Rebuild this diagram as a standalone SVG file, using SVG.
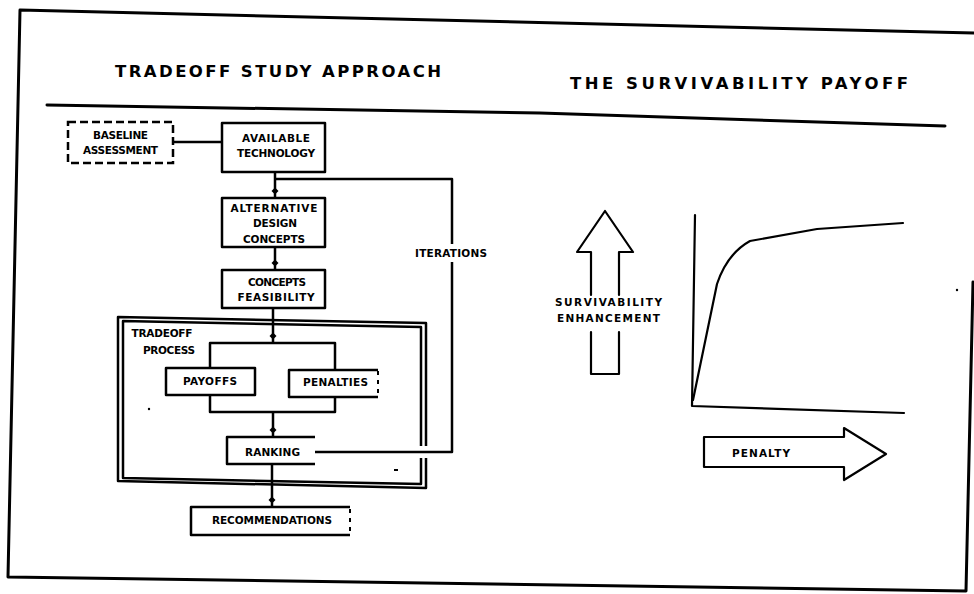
<svg xmlns="http://www.w3.org/2000/svg" width="974" height="594" viewBox="0 0 974 594">
  <defs>
    <style>
      .frame { fill: none; stroke: #000; stroke-width: 3; stroke-linecap: round; stroke-linejoin: round; }
      .box { fill: #fff; stroke: #000; stroke-width: 2.5; stroke-linejoin: round; }
      .open { fill: none; stroke: #000; stroke-width: 2.5; stroke-linejoin: round; }
      .dash { fill: none; stroke: #000; stroke-width: 2.5; stroke-dasharray: 8 4; }
      .dotted { fill: none; stroke: #000; stroke-width: 2; stroke-dasharray: 4 5; }
      .wire { fill: none; stroke: #000; stroke-width: 2.5; stroke-linejoin: round; }
      .plot { fill: none; stroke: #000; stroke-width: 2.2; stroke-linejoin: round; stroke-linecap: round; }
      .title { font-family: "DejaVu Sans", "Liberation Sans", sans-serif; font-weight: bold; font-size: 16.5px; fill: #000; }
      .lbl { font-family: "DejaVu Sans", "Liberation Sans", sans-serif; font-weight: bold; font-size: 10.5px; fill: #000; text-anchor: middle; }
    </style>
    <marker id="dot" markerUnits="userSpaceOnUse" markerWidth="12" markerHeight="12" viewBox="0 0 12 12" refX="11" refY="6" orient="auto">
      <path d="M0.5,6 L4,2.5 L7.5,6 L4,9.5 Z" fill="#000"/>
    </marker>
  </defs>

  <rect width="974" height="594" fill="#fff"/>

  <!-- page frame and header rule -->
  <path class="frame" d="M20,10 L974,33 M20,10 L8,577 L966,591 L973,282"/>
  <path class="frame" d="M47,105 L540,113 L945,126"/>

  <text class="title" x="115" y="77" textLength="326" lengthAdjust="spacing">TRADEOFF STUDY APPROACH</text>
  <text class="title" x="570" y="89" textLength="338" lengthAdjust="spacing">THE SURVIVABILITY PAYOFF</text>

  <!-- tradeoff process enclosure (double border, broken where the loop exits) -->
  <g id="tradeoff-process">
    <path class="open" stroke-width="3" d="M426,446 L426,323 L118,317 L118,481 L426,488 L426,458"/>
    <path class="open" stroke-width="1.8" d="M421,446 L421,327 L123,321 L123,478 L421,484 L421,458"/>
    <text class="lbl" x="162" y="337" textLength="61" lengthAdjust="spacing">TRADEOFF</text>
    <text class="lbl" x="169" y="354" textLength="52" lengthAdjust="spacing">PROCESS</text>
  </g>

  <!-- connectors -->
  <g id="connectors">
    <path class="wire" stroke-width="3" d="M173,142 L222,142"/>
    <path class="wire" d="M275,172 L275,198" marker-end="url(#dot)"/>
    <path class="wire" d="M275,179 L452,179 L452,244"/>
    <path class="wire" d="M452,262 L452,452 L315,452"/>
    <path class="wire" d="M275,247 L275,270" marker-end="url(#dot)"/>
    <path class="wire" d="M273,308 L273,343" marker-end="url(#dot)"/>
    <path class="wire" d="M210,368 L210,343 L335,343 L335,370"/>
    <path class="wire" d="M210,395 L210,412 L335,412 L335,397"/>
    <path class="wire" d="M273,412 L273,437" marker-end="url(#dot)"/>
    <path class="wire" d="M272,464 L272,507" marker-end="url(#dot)"/>
    <text class="lbl" x="451" y="257" textLength="72" lengthAdjust="spacing">ITERATIONS</text>
  </g>

  <g id="baseline-assessment">
    <rect class="dash" x="68" y="122" width="105" height="41"/>
    <text class="lbl" x="120.5" y="139" textLength="55" lengthAdjust="spacing">BASELINE</text>
    <text class="lbl" x="120.5" y="154" textLength="75" lengthAdjust="spacing">ASSESSMENT</text>
  </g>

  <g id="available-technology">
    <rect class="box" x="222" y="123" width="103" height="49"/>
    <text class="lbl" x="276" y="142" textLength="68" lengthAdjust="spacing">AVAILABLE</text>
    <text class="lbl" x="276" y="157" textLength="78" lengthAdjust="spacing">TECHNOLOGY</text>
  </g>

  <g id="alternative-design-concepts">
    <rect class="box" x="222" y="198" width="103" height="49"/>
    <text class="lbl" x="274" y="212" textLength="87" lengthAdjust="spacing">ALTERNATIVE</text>
    <text class="lbl" x="275" y="227" textLength="44" lengthAdjust="spacing">DESIGN</text>
    <text class="lbl" x="274" y="243" textLength="62" lengthAdjust="spacing">CONCEPTS</text>
  </g>

  <g id="concepts-feasibility">
    <rect class="box" x="222" y="270" width="103" height="38"/>
    <text class="lbl" x="277" y="286" textLength="58" lengthAdjust="spacing">CONCEPTS</text>
    <text class="lbl" x="276" y="301" textLength="77" lengthAdjust="spacing">FEASIBILITY</text>
  </g>

  <g id="payoffs">
    <rect class="box" x="166" y="368" width="89" height="27"/>
    <text class="lbl" x="210" y="385" textLength="54" lengthAdjust="spacing">PAYOFFS</text>
  </g>

  <g id="penalties">
    <path class="open" d="M378,370 L289,370 L289,397 L378,397"/>
    <path class="dotted" d="M378,371 L378,396"/>
    <text class="lbl" x="335.5" y="386" textLength="65" lengthAdjust="spacing">PENALTIES</text>
  </g>

  <g id="ranking">
    <path class="open" d="M315,437 L227,437 L227,464 L315,464"/>
    <text class="lbl" x="272.5" y="456" textLength="55" lengthAdjust="spacing">RANKING</text>
  </g>

  <g id="recommendations">
    <path class="open" d="M350,507 L191,507 L191,535 L350,535"/>
    <path class="dotted" d="M350,509 L350,533"/>
    <text class="lbl" x="272" y="524" textLength="120" lengthAdjust="spacing">RECOMMENDATIONS</text>
  </g>

  <!-- survivability payoff chart -->
  <g id="enhancement-arrow">
    <path class="plot" d="M591,295 L591,252 L577,252 L605,211 L633,252 L619,252 L619,295"/>
    <path class="plot" d="M591,332 L591,374 L619,374 L619,332"/>
    <text class="lbl" x="608.5" y="306" textLength="107" lengthAdjust="spacing">SURVIVABILITY</text>
    <text class="lbl" x="608.5" y="322" textLength="103" lengthAdjust="spacing">ENHANCEMENT</text>
  </g>

  <g id="payoff-curve">
    <path class="plot" d="M695,215 L692,406 L904,413"/>
    <path class="plot" d="M693,400 L717,284 C723,266 732,251 750,241 L817,229 L903,223"/>
  </g>

  <g id="penalty-arrow">
    <path class="plot" d="M704,437 L844,437 L844,428 L886,454 L844,480 L844,467 L704,467 Z"/>
    <text class="lbl" x="761" y="457" textLength="58" lengthAdjust="spacing">PENALTY</text>
  </g>

  <!-- stray print specks -->
  <circle cx="149" cy="409" r="1.2" fill="#000"/>
  <rect x="394" y="469" width="4" height="2" fill="#000"/>
  <circle cx="957" cy="290" r="1.2" fill="#000"/>
</svg>
